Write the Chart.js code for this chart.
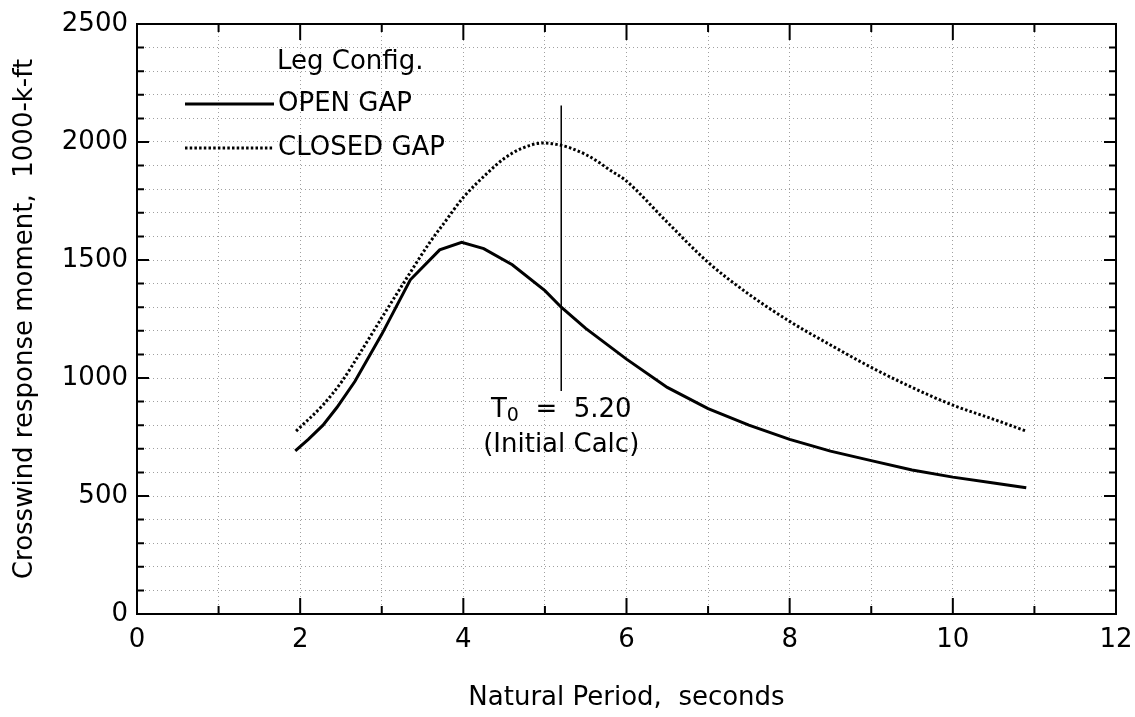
<!DOCTYPE html>
<html>
<head>
<meta charset="utf-8">
<script src="https://cdn.jsdelivr.net/npm/chart.js@4/dist/chart.umd.min.js"></script>
<style>
  html, body { margin: 0; padding: 0; background: #fff; }
  #wrap { width: 1135px; height: 717px; }
</style>
</head>
<body>
<div id="wrap"><canvas id="myChart"></canvas></div>
<script>
// data
const periodOpen = [1.94, 2.1, 2.28, 2.45, 2.67, 3.0, 3.35, 3.71, 3.98, 4.25, 4.6, 5.0, 5.2, 5.5, 6.0, 6.5, 7.0, 7.5, 8.0, 8.5, 9.0, 9.5, 10.0, 10.5, 10.9];
const momentOpen = [691, 740, 800, 875, 985, 1185, 1416, 1543, 1575, 1548, 1480, 1370, 1300, 1210, 1080, 960, 870, 800, 740, 690, 650, 610, 580, 555, 535];

const periodClosed = [1.95, 2.28, 2.51, 2.75, 3.0, 3.3, 3.59, 3.75, 4.0, 4.3, 4.5, 4.71, 4.98, 5.14, 5.31, 5.51, 5.67, 5.8, 5.98, 6.5, 7.0, 7.5, 8.0, 8.5, 9.0, 9.5, 10.0, 10.5, 10.9];
const momentClosed = [775, 886, 985, 1115, 1255, 1420, 1575, 1650, 1765, 1870, 1930, 1972, 1996, 1990, 1975, 1945, 1912, 1880, 1840, 1660, 1490, 1355, 1240, 1140, 1045, 960, 885, 825, 775];

const markerPeriod = [5.2, 5.2];
const markerMoment = [945, 2155];

const seriesNames = ['OPEN GAP', 'CLOSED GAP'];
const xTickLabels = [0, 2, 4, 6, 8, 10, 12];
const yTickLabels = [0, 500, 1000, 1500, 2000, 2500];

const FONT = 'DejaVu Sans';
const SIZE = 26;

function pts(xs, ys) {
  return xs.map((x, i) => ({ x: x, y: ys[i] }));
}

// frame, inward ticks, legend and the T0 note
const decorations = {
  id: 'decorations',
  afterDraw(chart) {
    const c = chart.ctx;
    const a = chart.chartArea;
    const xs = chart.scales.x;
    const ys = chart.scales.y;
    c.save();
    c.strokeStyle = '#000';
    c.lineWidth = 2;
    c.strokeRect(a.left, a.top, a.right - a.left, a.bottom - a.top);

    for (let v = 1; v < 12; v++) {
      const px = xs.getPixelForValue(v);
      const len = v % 2 === 0 ? 16 : 8;
      c.beginPath();
      c.moveTo(px, a.bottom); c.lineTo(px, a.bottom - len);
      c.moveTo(px, a.top); c.lineTo(px, a.top + len);
      c.stroke();
    }
    for (let v = 100; v < 2500; v += 100) {
      const py = ys.getPixelForValue(v);
      const len = v % 500 === 0 ? 12 : 7;
      c.beginPath();
      c.moveTo(a.left, py); c.lineTo(a.left + len, py);
      c.moveTo(a.right, py); c.lineTo(a.right - len, py);
      c.stroke();
    }

    // legend
    c.fillStyle = '#000';
    c.font = SIZE + 'px "' + FONT + '"';
    c.textBaseline = 'middle';
    c.textAlign = 'left';
    c.fillText('Leg Config.', 277, 62);
    c.lineWidth = 3;
    c.beginPath();
    c.moveTo(185, 104); c.lineTo(274, 104);
    c.stroke();
    c.fillText(seriesNames[0], 278, 104);
    c.setLineDash([2.5, 2.2]);
    c.beginPath();
    c.moveTo(185, 148); c.lineTo(274, 148);
    c.stroke();
    c.setLineDash([]);
    c.fillText(seriesNames[1], 278, 148);

    // note under the marker line
    const nx = xs.getPixelForValue(5.2);
    const ny = ys.getPixelForValue(865);
    c.font = SIZE + 'px "' + FONT + '"';
    const tW = c.measureText('T').width;
    c.font = '19px "' + FONT + '"';
    const subW = c.measureText('0').width;
    c.font = SIZE + 'px "' + FONT + '"';
    const rest = '  =  5.20';
    const total = tW + subW + c.measureText(rest).width;
    const sx = nx - total / 2;
    c.fillText('T', sx, ny);
    c.font = '19px "' + FONT + '"';
    c.fillText('0', sx + tW, ny + 6);
    c.font = SIZE + 'px "' + FONT + '"';
    c.fillText(rest, sx + tW + subW, ny);
    c.textAlign = 'center';
    c.fillText('(Initial Calc)', nx, ys.getPixelForValue(717));
    c.restore();
  }
};

const ctx = document.getElementById('myChart');

new Chart(ctx, {
  type: 'scatter',
  data: {
    datasets: [
      {
        label: seriesNames[0],
        data: pts(periodOpen, momentOpen),
        showLine: true,
        borderColor: '#000',
        borderWidth: 3,
        pointRadius: 0,
        tension: 0,
      },
      {
        label: seriesNames[1],
        data: pts(periodClosed, momentClosed),
        showLine: true,
        borderColor: '#000',
        borderWidth: 3,
        borderDash: [2.5, 2.2],
        pointRadius: 0,
        cubicInterpolationMode: 'monotone',
      },
      {
        label: 'T0',
        data: pts(markerPeriod, markerMoment),
        showLine: true,
        borderColor: '#000',
        borderWidth: 1.5,
        pointRadius: 0,
      },
    ],
  },
  plugins: [decorations],
  options: {
    responsive: true,
    maintainAspectRatio: false,
    animation: false,
    layout: { padding: { top: 24, right: 19, left: 0, bottom: 0 } },
    plugins: {
      legend: { display: false },
      tooltip: { enabled: false },
    },
    scales: {
      x: {
        type: 'linear',
        min: 0,
        max: 12,
        afterFit: (s) => {
          s.height = 103;
          s.paddingLeft = 0;
          s.paddingRight = 0;
        },
        afterBuildTicks: (s) => {
          s.ticks = [];
          for (let v = 0; v <= 12; v++) s.ticks.push({ value: v });
        },
        grid: {
          color: '#a0a0a0',
          lineWidth: 1,
          drawTicks: false,
        },
        border: { display: false, dash: [1, 3] },
        ticks: {
          autoSkip: false,
          maxRotation: 0,
          padding: 11,
          color: '#000',
          font: { family: FONT, size: SIZE },
          callback: (v) => (xTickLabels.includes(v) ? v : ''),
        },
        title: {
          display: true,
          text: 'Natural Period,  seconds',
          color: '#000',
          font: { family: FONT, size: SIZE },
          padding: { top: 0, bottom: 3 },
        },
      },
      y: {
        type: 'linear',
        min: 0,
        max: 2500,
        afterFit: (s) => {
          s.width = 137;
          s.paddingTop = 0;
          s.paddingBottom = 0;
        },
        afterBuildTicks: (s) => {
          s.ticks = [];
          for (let v = 0; v <= 2500; v += 100) s.ticks.push({ value: v });
        },
        grid: {
          color: '#a0a0a0',
          lineWidth: 1,
          drawTicks: false,
        },
        border: { display: false, dash: [1, 3] },
        ticks: {
          autoSkip: false,
          padding: 9,
          color: '#000',
          font: { family: FONT, size: SIZE },
          callback: (v) => (yTickLabels.includes(v) ? v : ''),
        },
        title: {
          display: true,
          text: 'Crosswind response moment,  1000-k-ft',
          color: '#000',
          font: { family: FONT, size: SIZE },
          padding: { top: 10, bottom: 0 },
        },
      },
    },
  },
});
</script>
</body>
</html>
